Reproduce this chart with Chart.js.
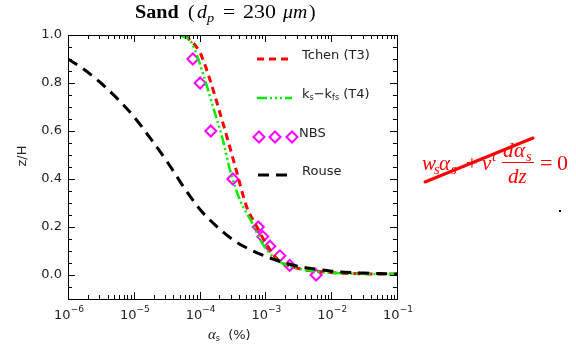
<!DOCTYPE html>
<html><head><meta charset="utf-8">
<script src="https://cdn.jsdelivr.net/npm/chart.js@4/dist/chart.umd.min.js"></script>
<style>html,body{margin:0;padding:0;background:#fff}#wrap{width:576px;height:356px;position:relative}</style>
</head><body><div id="wrap"><canvas id="c"></canvas></div>
<script>
// ---- data (alpha_s in %, z/H) ----
const rouseAlpha = [1.0e-6, 1.78e-6, 3.16e-6, 5.62e-6, 1.0e-5, 1.78e-5, 3.16e-5, 5.62e-5, 1.0e-4, 1.78e-4, 3.16e-4, 5.62e-4, 1.0e-3, 1.78e-3, 3.16e-3, 5.62e-3, 1.0e-2, 3.16e-2, 1.0e-1];
const rouseZ     = [0.90, 0.855, 0.80, 0.735, 0.66, 0.57, 0.475, 0.37, 0.275, 0.205, 0.148, 0.108, 0.078, 0.054, 0.036, 0.025, 0.016, 0.008, 0.004];
const tchenAlpha = [6.0e-5, 1.02e-4, 1.45e-4, 2.04e-4, 2.7e-4, 3.7e-4, 5.2e-4, 6.9e-4, 1.1e-3, 1.56e-3, 3.0e-3, 7.6e-3, 2.1e-2, 1.0e-1];
const tchenZ     = [1.0, 0.925, 0.81, 0.675, 0.56, 0.425, 0.283, 0.217, 0.117, 0.0625, 0.029, 0.0125, 0.006, 0.004];
const t4Alpha    = [5.0e-5, 7.6e-5, 1.12e-4, 1.6e-4, 2.2e-4, 2.9e-4, 4.1e-4, 6.3e-4, 8.9e-4, 1.5e-3, 3.0e-3, 7.6e-3, 2.1e-2, 1.0e-1];
const t4Z        = [1.0, 0.967, 0.842, 0.70, 0.575, 0.4375, 0.3125, 0.217, 0.133, 0.0625, 0.029, 0.0125, 0.006, 0.004];
const nbsAlpha   = [7.9e-5, 1.02e-4, 1.48e-4, 3.2e-4, 7.8e-4, 9.1e-4, 1.17e-3, 1.66e-3, 2.34e-3, 5.9e-3];
const nbsZ       = [0.9, 0.8, 0.6, 0.4, 0.2, 0.16, 0.12, 0.08, 0.04, 0.0];
const xDecades   = [1e-6, 1e-5, 1e-4, 1e-3, 1e-2, 1e-1];
const xTickBase  = '10';
const xTickExps  = ['\u22126', '\u22125', '\u22124', '\u22123', '\u22122', '\u22121'];
const yTicks     = [0.0, 0.2, 0.4, 0.6, 0.8, 1.0];
const yTickLabels = ['0.0', '0.2', '0.4', '0.6', '0.8', '1.0'];
const seriesNames = ['Tchen (T3)', 'ks-kfs (T4)', 'NBS', 'Rouse'];

const zip = (xs, ys) => xs.map((x, i) => ({x, y: ys[i]}));
const SANS = '"DejaVu Sans", "Liberation Sans", sans-serif';
const SERIF = '"Liberation Serif", "DejaVu Serif", serif';
const RED = '#ff0000', GREEN = '#00ee00', MAG = '#ff00ff';
const DASH_RED = [7, 5], DASH_GREEN = [10, 3, 2, 3, 2, 3, 2, 3], DASH_BLACK = [11, 7];

function txt(ctx, s, x, y, font, color, sx, align, baseline) {
  ctx.save(); ctx.font = font; ctx.fillStyle = color;
  ctx.textAlign = align || 'left'; ctx.textBaseline = baseline || 'alphabetic';
  ctx.translate(x, y); ctx.scale(sx || 1, 1); ctx.fillText(s, 0, 0); ctx.restore();
}
function runs(ctx, x, y, parts, color, baseline) {
  ctx.save(); ctx.fillStyle = color; ctx.textBaseline = baseline || 'alphabetic'; ctx.textAlign = 'left';
  let cx = x;
  for (const p of parts) { ctx.font = p.f; ctx.fillText(p.t, cx, y + (p.dy || 0)); cx += ctx.measureText(p.t).width + (p.gap || 0); }
  ctx.restore();
}
function runsWidth(ctx, parts) {
  let w = 0; ctx.save();
  for (const p of parts) { ctx.font = p.f; w += ctx.measureText(p.t).width + (p.gap || 0); }
  ctx.restore(); return w;
}

const deco = {
  id: 'deco',
  afterDraw(chart) {
    const ctx = chart.ctx, a = chart.chartArea, xs = chart.scales.x, ys = chart.scales.y;
    ctx.save();
    // box
    ctx.strokeStyle = '#000'; ctx.lineWidth = 1;
    ctx.strokeRect(Math.round(a.left) + 0.5, Math.round(a.top) + 0.5, Math.round(a.right - a.left), Math.round(a.bottom - a.top));
    // x ticks
    ctx.beginPath();
    for (let n = -6; n <= -2; n++) {
      for (let m = 1; m <= 9; m++) {
        const v = m * Math.pow(10, n);
        const px = Math.round(xs.getPixelForValue(v)) + 0.5, len = m === 1 ? 7 : 4;
        ctx.moveTo(px, a.bottom); ctx.lineTo(px, a.bottom - len);
        ctx.moveTo(px, a.top); ctx.lineTo(px, a.top + len);
      }
    }
    // y ticks
    for (let k = -1; k <= 19; k++) {
      const v = k * 0.05, py = Math.round(ys.getPixelForValue(v)) + 0.5, len = (k % 4 === 0) ? 7 : 4;
      ctx.moveTo(a.left, py); ctx.lineTo(a.left + len, py);
      ctx.moveTo(a.right, py); ctx.lineTo(a.right - len, py);
    }
    ctx.stroke();

    const LC = '#222';
    // x tick labels (10 with superscript exponent)
    xDecades.forEach((v, i) => {
      const parts = [{t: xTickBase, f: '13px ' + SANS}, {t: xTickExps[i], f: '9px ' + SANS, dy: -7}];
      const w = runsWidth(ctx, parts);
      runs(ctx, xs.getPixelForValue(v) - w / 2 + 1, a.bottom + 20, parts, LC);
    });

    // legend
    const lx0 = 257, lx1 = 292, tx = 302;
    const ly = [59, 98, 137, 175];
    ctx.lineWidth = 3; ctx.strokeStyle = RED; ctx.setLineDash(DASH_RED);
    ctx.beginPath(); ctx.moveTo(lx0, ly[0]); ctx.lineTo(lx1, ly[0]); ctx.stroke();
    ctx.lineWidth = 2.5; ctx.strokeStyle = GREEN; ctx.setLineDash(DASH_GREEN);
    ctx.beginPath(); ctx.moveTo(lx0, ly[1]); ctx.lineTo(lx1, ly[1]); ctx.stroke();
    ctx.lineWidth = 3; ctx.strokeStyle = '#000'; ctx.setLineDash(DASH_BLACK);
    ctx.beginPath(); ctx.moveTo(lx0 + 1, ly[3]); ctx.lineTo(lx1 - 3, ly[3]); ctx.stroke();
    ctx.setLineDash([]);
    ctx.lineWidth = 2; ctx.strokeStyle = MAG;
    [259, 275, 292].forEach(cx => {
      ctx.beginPath(); ctx.moveTo(cx - 5.5, ly[2]); ctx.lineTo(cx, ly[2] - 5.5); ctx.lineTo(cx + 5.5, ly[2]); ctx.lineTo(cx, ly[2] + 5.5); ctx.closePath(); ctx.stroke();
    });
    const LF = '13px ' + SANS, LS = '8px ' + SANS;
    runs(ctx, tx, ly[0] - 3, [{t: 'Tchen (T3)', f: LF}], LC, 'middle');
    runs(ctx, tx, ly[1] - 3, [{t: 'k', f: LF}, {t: 's', f: LS, dy: 3}, {t: '\u2212k', f: LF}, {t: 'fs', f: LS, dy: 3}, {t: ' (T4)', f: LF}], LC, 'middle');
    runs(ctx, tx - 3, ly[2] - 3, [{t: 'NBS', f: LF}], LC, 'middle');
    runs(ctx, tx, ly[3] - 3, [{t: 'Rouse', f: LF}], LC, 'middle');

    // axis titles
    runs(ctx, 208, 339, [{t: '\u03B1', f: 'italic 15px ' + SERIF}, {t: 's', f: '8px ' + SANS, dy: 2, gap: 4}, {t: ' (%)', f: '13px ' + SANS}], LC);
    ctx.save(); ctx.translate(23, 156); ctx.rotate(-Math.PI / 2);
    txt(ctx, 'z/H', 0, 0, '13px ' + SANS, LC, 1, 'center', 'middle'); ctx.restore();

    // title
    const TF = '18px ' + SERIF, TI = 'italic 18px ' + SERIF;
    txt(ctx, 'Sand', 135, 18, 'bold 18px ' + SERIF, '#000', 1.12);
    txt(ctx, '(', 188, 18, TF, '#000', 1.1);
    txt(ctx, 'd', 197, 18, TI, '#000', 1.1);
    txt(ctx, 'p', 207, 22, 'italic 13px ' + SERIF, '#000', 1.1);
    txt(ctx, '=', 223, 18, TF, '#000', 1.2);
    txt(ctx, '230', 243, 18, TF, '#000', 1.22);
    txt(ctx, '\u03BCm', 283, 18, TI, '#000', 1.1);
    txt(ctx, ')', 309, 18, TF, '#000', 1.1);

    // equation annotation
    const EI = 'italic 20px ' + SERIF, EN = '20px ' + SERIF, ES = 'italic 14px ' + SERIF;
    txt(ctx, 'w', 422, 170, EI, RED, 1.05);
    txt(ctx, 's', 434, 174, ES, RED, 1.05);
    txt(ctx, '\u03B1', 439, 170, EI, RED, 1.05);
    txt(ctx, 's', 451, 174, ES, RED, 1.05);
    txt(ctx, '+', 466, 170, EN, RED, 1.05);
    txt(ctx, '\u03BD', 482, 170, EI, RED, 1.05);
    txt(ctx, 't', 492, 161, ES, RED, 1.05);
    txt(ctx, 'd', 503, 157, EI, RED, 1.05);
    txt(ctx, '\u03B1', 514, 157, EI, RED, 1.05);
    txt(ctx, 's', 526, 161, ES, RED, 1.05);
    txt(ctx, 'dz', 508, 183, EI, RED, 1.05);
    txt(ctx, '=', 540, 170, EN, RED, 1.1);
    txt(ctx, '0', 557, 170, EN, RED, 1.1);
    ctx.strokeStyle = RED; ctx.lineWidth = 1;
    ctx.beginPath(); ctx.moveTo(502, 162.5); ctx.lineTo(534, 162.5); ctx.stroke();
    ctx.lineWidth = 3; ctx.lineCap = 'round';
    ctx.beginPath(); ctx.moveTo(425, 182); ctx.lineTo(533, 138); ctx.stroke();
    ctx.fillStyle = '#000'; ctx.fillRect(559, 210, 2, 2);
    ctx.restore();
  }
};

new Chart(document.getElementById('c'), {
  type: 'line',
  data: {
    datasets: [
      {label: seriesNames[3], data: zip(rouseAlpha, rouseZ), borderColor: '#000', borderWidth: 3, borderDash: DASH_BLACK, pointRadius: 0, fill: false, cubicInterpolationMode: 'monotone'},
      {label: seriesNames[1], data: zip(t4Alpha, t4Z), borderColor: GREEN, borderWidth: 2.5, borderDash: DASH_GREEN, pointRadius: 0, fill: false, cubicInterpolationMode: 'monotone'},
      {label: seriesNames[0], data: zip(tchenAlpha, tchenZ), borderColor: RED, borderWidth: 3, borderDash: DASH_RED, pointRadius: 0, fill: false, cubicInterpolationMode: 'monotone'},
      {label: seriesNames[2], data: zip(nbsAlpha, nbsZ), showLine: false, pointStyle: 'rectRot', pointRadius: 5.5, pointBorderWidth: 2, pointBorderColor: MAG, pointBackgroundColor: 'rgba(0,0,0,0)', borderColor: MAG}
    ]
  },
  options: {
    responsive: true, maintainAspectRatio: false, animation: false,
    layout: {padding: {top: 35, right: 179, left: 0, bottom: 0}},
    plugins: {legend: {display: false}, tooltip: {enabled: false}, title: {display: false}},
    scales: {
      x: {
        type: 'logarithmic', position: 'bottom', min: 1e-6, max: 1e-1,
        afterBuildTicks: s => { s.ticks = xDecades.map(v => ({value: v})); },
        afterFit: s => { s.height = 57; },
        grid: {display: false, drawTicks: false, tickLength: 0},
        border: {display: false},
        ticks: {display: false, autoSkip: false}
      },
      y: {
        type: 'linear', position: 'left', min: -0.1, max: 1.0,
        afterBuildTicks: s => { s.ticks = yTicks.map(v => ({value: v})); },
        afterFit: s => { s.width = 68; },
        grid: {display: false, drawTicks: false, tickLength: 0},
        border: {display: false},
        ticks: {padding: 6, color: '#222', font: {family: 'DejaVu Sans', size: 13},
          callback: (v) => { const i = yTicks.findIndex(d => Math.abs(d - v) < 1e-9); return i >= 0 ? yTickLabels[i] : ''; }}
      }
    }
  },
  plugins: [deco]
});
</script>
</body></html>
